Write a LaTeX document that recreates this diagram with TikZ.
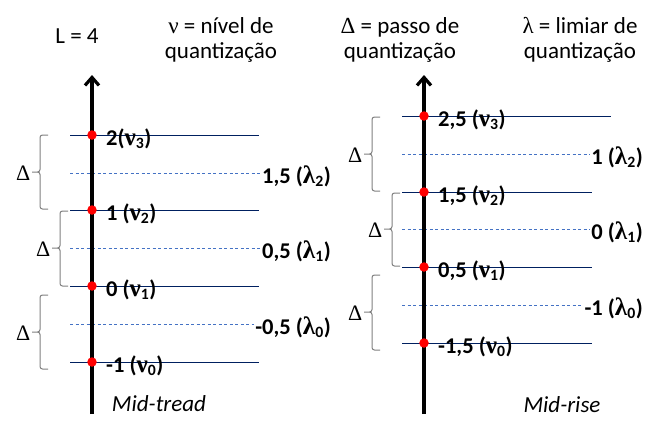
\documentclass[tikz,border=0pt]{standalone}
\usepackage{fontspec}
\setmainfont{Carlito}
\newfontfamily\grk{Liberation Serif}
\newfontfamily\grkb[Scale=1.12]{Liberation Serif}
\usetikzlibrary{arrows.meta}

\begin{document}
\begin{tikzpicture}[x=1pt,y=-1pt,
    axis/.style={line width=3.2pt,-{Straight Barb[length=8pt,width=14pt]}},
    level/.style={line width=0.9pt,color={rgb,255:red,0; green,32; blue,96}},
    thresh/.style={line width=0.7pt,dash pattern=on 3pt off 2.5pt,color={rgb,255:red,68; green,114; blue,196}},
    dot/.style={circle,fill=red,inner sep=0pt,minimum size=9.5pt},
    vlab/.style={anchor=base west,inner sep=0pt,font=\fontsize{22.5}{24}\selectfont\bfseries},
    llab/.style={anchor=base east,inner sep=0pt,font=\fontsize{22.5}{24}\selectfont\bfseries},
    qbrace/.style={line width=1pt,color={rgb,255:red,127; green,127; blue,127},rounded corners=2.5pt},
    dlab/.style={anchor=east,inner sep=1.5pt,font=\fontsize{22}{24}\selectfont\grk},
    head/.style={align=center,inner sep=0pt,font=\fontsize{23}{25}\selectfont}]
    \useasboundingbox (0,0) rectangle (661,432);

    % headers
    \node[head] (nL) at (77,36) {L = 4};
    \node[head] (nnu) at (221,40) {{\grk ν} = nível de\\quantização};
    \node[head] (ndelta) at (400,40) {{\grk Δ} = passo de\\quantização};
    \node[head] (nlambda) at (580,40) {{\grk λ} = limiar de\\quantização};

    %#1 mid-tread
    \coordinate (a0) at (92,414);
    \coordinate (a1) at (92,75);
    \draw[level] (70,135) -- (259,135);
    \draw[level] (70,210) -- (259,210);
    \draw[level] (70,286) -- (259,286);
    \draw[level] (70,362) -- (259,362);
    \node[llab] (al2) at (331,183) {1,5 ({\grkb λ}\textsubscript{2})};
    \node[llab] (al1) at (331,258) {0,5 ({\grkb λ}\textsubscript{1})};
    \node[llab] (al0) at (331,334) {-0,5 ({\grkb λ}\textsubscript{0})};
    \coordinate (as2) at (70,173);
    \coordinate (as1) at (70,248);
    \coordinate (as0) at (70,324);
    \draw[thresh] (as2) -- ([xshift=-1pt]al2.west |- as2);
    \draw[thresh] (as1) -- ([xshift=-1pt]al1.west |- as1);
    \draw[thresh] (as0) -- ([xshift=-1pt]al0.west |- as0);
    \draw[axis] (a0) -- (a1);
    \node[dot] (ad3) at (92,135) {};
    \node[dot] (ad2) at (92,210) {};
    \node[dot] (ad1) at (92,286) {};
    \node[dot] (ad0) at (92,362) {};
    \node[vlab] (av3) at (106,145) {2({\grkb ν}\textsubscript{3})};
    \node[vlab] (av2) at (106,220) {1 ({\grkb ν}\textsubscript{2})};
    \node[vlab] (av1) at (106,296) {0 ({\grkb ν}\textsubscript{1})};
    \node[vlab] (av0) at (106,372) {-1 ({\grkb ν}\textsubscript{0})};
    \draw[qbrace] (48,135) -- (40,135) -- (40,172) -- (32,172) (32,172) -- (40,172) -- (40,209) -- (48,209);
    \draw[qbrace] (68,211) -- (60,211) -- (60,248) -- (52,248) (52,248) -- (60,248) -- (60,286) -- (68,286);
    \draw[qbrace] (48,295) -- (40,295) -- (40,332) -- (32,332) (32,332) -- (40,332) -- (40,369) -- (48,369);
    \node[dlab] (ab2) at (32,173) {Δ};
    \node[dlab] (ab1) at (52,249) {Δ};
    \node[dlab] (ab0) at (32,333) {Δ};
    \node[font=\fontsize{23}{25}\selectfont\itshape] (atread) at (159,404) {Mid-tread};

    %#2 mid-rise
    \coordinate (b0) at (424,414);
    \coordinate (b1) at (424,75);
    \draw[level] (402,116) -- (611,116);
    \draw[level] (402,192) -- (592,192);
    \draw[level] (402,267) -- (592,267);
    \draw[level] (402,343) -- (592,343);
    \node[llab] (bl2) at (643,164) {1 ({\grkb λ}\textsubscript{2})};
    \node[llab] (bl1) at (643,239) {0 ({\grkb λ}\textsubscript{1})};
    \node[llab] (bl0) at (643,315) {-1 ({\grkb λ}\textsubscript{0})};
    \coordinate (bs2) at (402,154);
    \coordinate (bs1) at (402,229);
    \coordinate (bs0) at (402,305);
    \draw[thresh] (bs2) -- ([xshift=-1pt]bl2.west |- bs2);
    \draw[thresh] (bs1) -- ([xshift=-1pt]bl1.west |- bs1);
    \draw[thresh] (bs0) -- ([xshift=-1pt]bl0.west |- bs0);
    \draw[axis] (b0) -- (b1);
    \node[dot] (bd3) at (424,116) {};
    \node[dot] (bd2) at (424,192) {};
    \node[dot] (bd1) at (424,267) {};
    \node[dot] (bd0) at (424,343) {};
    \node[vlab] (bv3) at (438,126) {2,5 ({\grkb ν}\textsubscript{3})};
    \node[vlab] (bv2) at (438,202) {1,5 ({\grkb ν}\textsubscript{2})};
    \node[vlab] (bv1) at (438,277) {0,5 ({\grkb ν}\textsubscript{1})};
    \node[vlab] (bv0) at (438,353) {-1,5 ({\grkb ν}\textsubscript{0})};
    \draw[qbrace] (380,117) -- (372,117) -- (372,154) -- (364,154) (364,154) -- (372,154) -- (372,191) -- (380,191);
    \draw[qbrace] (400,193) -- (392,193) -- (392,229) -- (384,229) (384,229) -- (392,229) -- (392,266) -- (400,266);
    \draw[qbrace] (380,275) -- (372,275) -- (372,312) -- (364,312) (364,312) -- (372,312) -- (372,350) -- (380,350);
    \node[dlab] (bb2) at (364,155) {Δ};
    \node[dlab] (bb1) at (384,230) {Δ};
    \node[dlab] (bb0) at (364,313) {Δ};
    \node[font=\fontsize{23}{25}\selectfont\itshape] (brise) at (562,405) {Mid-rise};
\end{tikzpicture}
\end{document}
